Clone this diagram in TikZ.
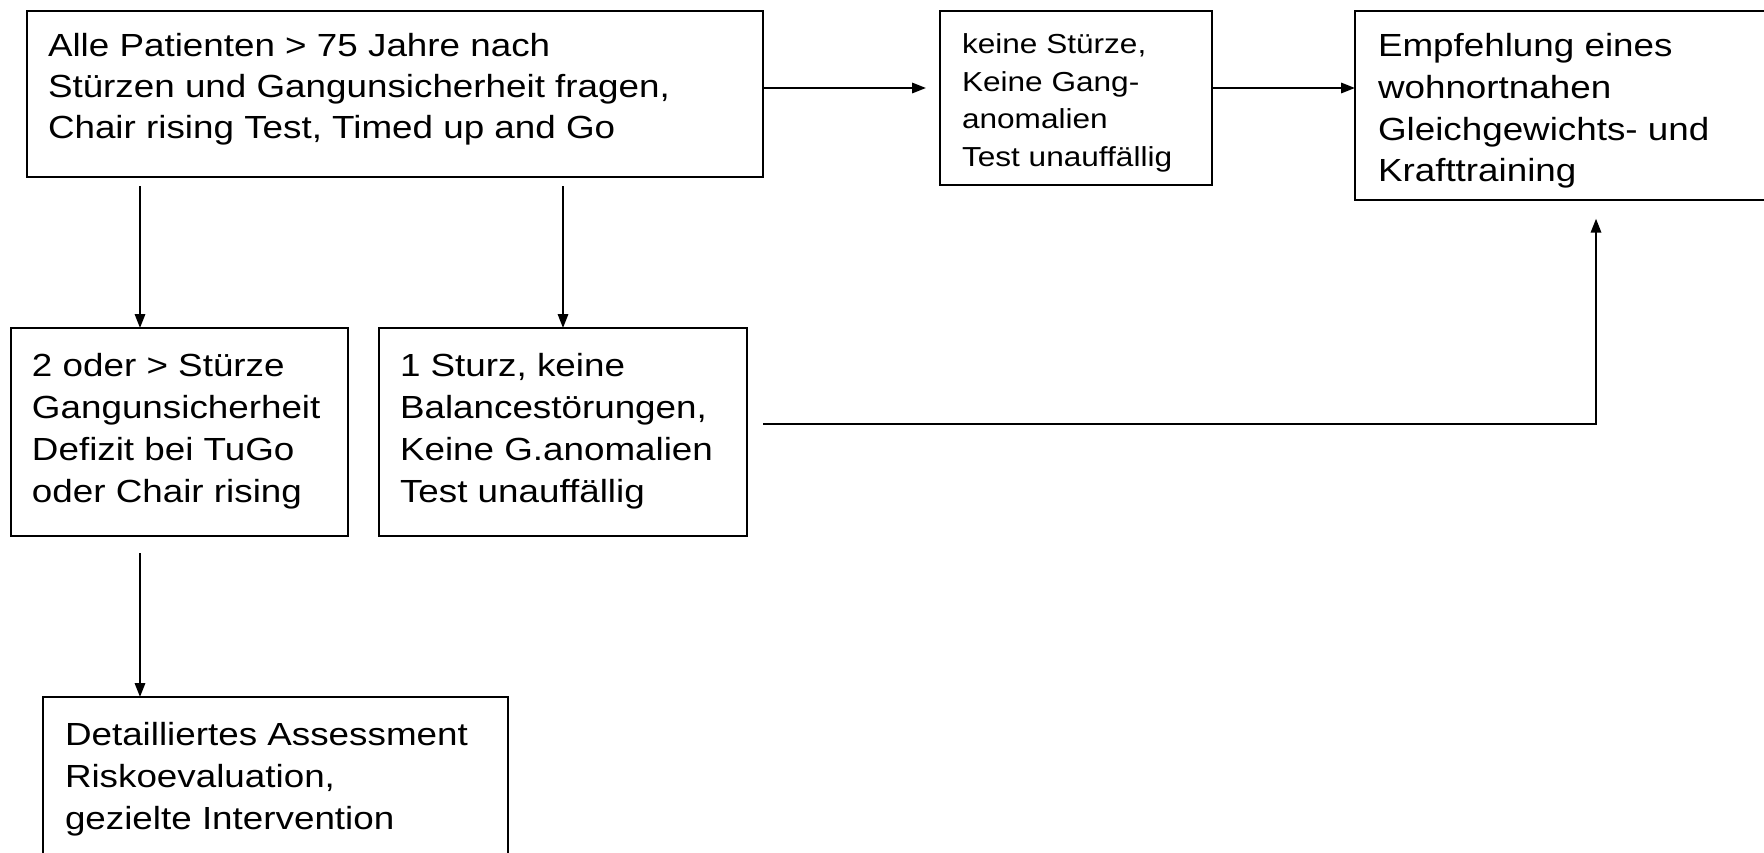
\documentclass[tikz,border=0pt]{standalone}
\usepackage{fontspec}
\setmainfont[FakeStretch=1.15]{Liberation Sans}
\usetikzlibrary{arrows.meta,fit}
\newcommand{\boxlines}[3]{\fontsize{#1}{#2}\selectfont\begin{tabular}[t]{@{}l@{}}#3\end{tabular}}
\tikzset{
  box/.style={draw, line width=0.75pt, inner sep=0pt, outer sep=0pt},
  txt/.style={anchor=base west, inner sep=0pt, outer sep=0pt},
  arr/.style={-{Triangle[length=5.25pt,width=3.9pt]}, line width=0.75pt},
  ln/.style={line width=0.75pt}
}
\begin{document}
\begin{tikzpicture}[x=0.375pt,y=-0.375pt]
\useasboundingbox (0,0) rectangle (1764,853);
% boxes
\node[box, fit={(27,11) (763,177)}] (A) {};
\node[box, fit={(940,11) (1212,185)}] (B) {};
\node[box, fit={(1355,11) (1772,200)}] (C) {};
\node[box, fit={(11,328) (348,536)}] (D) {};
\node[box, fit={(379,328) (747,536)}] (E) {};
\node[box, fit={(43,697) (508,870)}] (F) {};
% texts
\node[txt] (At) at (48,57) {\boxlines{12pt}{15.2pt}{Alle Patienten > 75 Jahre nach\\Stürzen und Gangunsicherheit fragen,\\Chair rising Test, Timed up and Go}};
\node[txt] (Bt) at (962,53) {\boxlines{10.3pt}{14.25pt}{keine Stürze,\\Keine Gang-\\anomalien\\Test unauffällig}};
\node[txt] (Ct) at (1378,56) {\boxlines{12pt}{15.75pt}{Empfehlung eines\\wohnortnahen\\Gleichgewichts- und\\Krafttraining}};
\node[txt] (Dt) at (32,376) {\boxlines{12pt}{15.75pt}{2 oder > Stürze\\Gangunsicherheit\\Defizit bei TuGo\\oder Chair rising}};
\node[txt] (Et) at (400,376) {\boxlines{12pt}{15.75pt}{1 Sturz, keine\\Balancestörungen,\\Keine G.anomalien\\Test unauffällig}};
\node[txt] (Ft) at (65,745) {\boxlines{12pt}{15.75pt}{Detailliertes Assessment\\Riskoevaluation,\\gezielte Intervention}};
% helper coordinates
\coordinate (r1) at (0,88);
\coordinate (c1) at (140,0);
\coordinate (r2) at (0,424);
\coordinate (c3) at (1596,0);
% connectors
\draw[arr, shorten >=5.25pt] (A.east |- r1) -- (B.west |- r1);
\draw[arr] (B.east |- r1) -- (C.west |- r1);
\draw[arr, shorten <=3.4pt] (A.south -| c1) -- (D.north -| c1);
\draw[arr, shorten <=3.4pt] (A.south -| E.north) -- (E.north);
\draw[arr, shorten <=6.4pt] (D.south -| c1) -- (F.north -| c1);
\draw[arr, shorten <=6pt, shorten >=7pt] (E.east |- r2) -| (C.south -| c3);
\end{tikzpicture}
\end{document}
